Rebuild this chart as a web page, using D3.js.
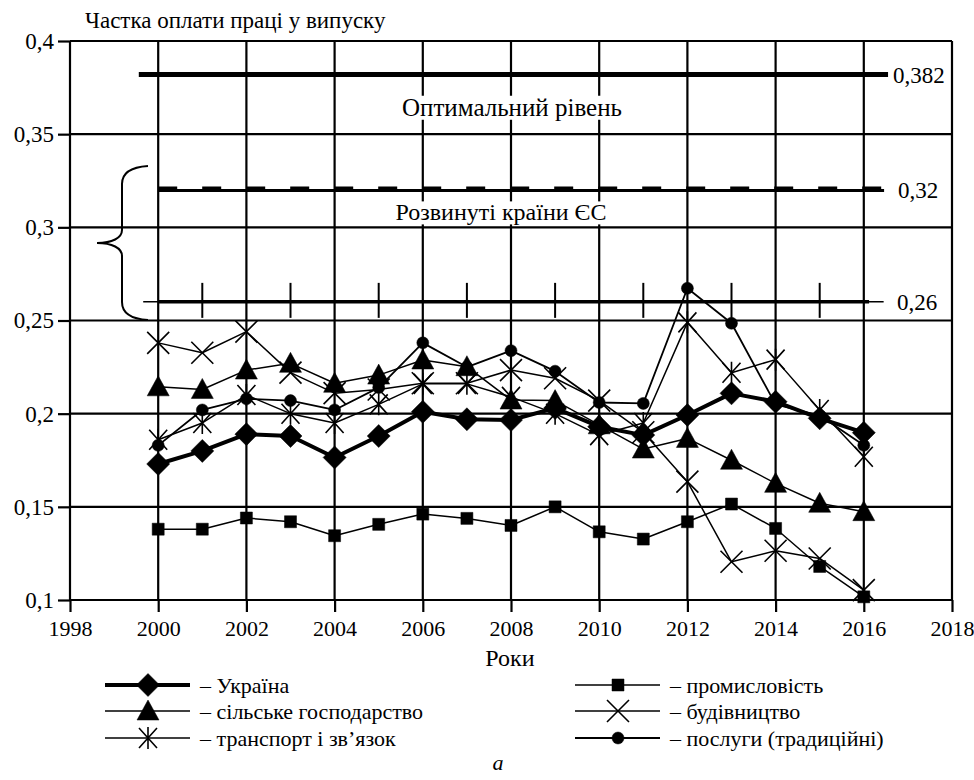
<!DOCTYPE html>
<html><head><meta charset="utf-8">
<script src="https://cdn.jsdelivr.net/npm/d3@7/dist/d3.min.js"></script>
<style>
body{margin:0;background:#fff}
svg text{font-family:"Liberation Serif","DejaVu Serif",serif !important;fill:#000}
</style>
</head><body>
<svg id="c" width="974" height="780"></svg>
<script>
const years = [2000,2001,2002,2003,2004,2005,2006,2007,2008,2009,2010,2011,2012,2013,2014,2015,2016];
const ukraine      = [0.173,0.180,0.189,0.188,0.1765,0.188,0.201,0.197,0.1966,0.203,0.193,0.1885,0.1993,0.2109,0.2064,0.1975,0.1898];
const agriculture  = [0.2144,0.213,0.2234,0.227,0.2163,0.2207,0.2288,0.2252,0.2073,0.207,0.194,0.181,0.1867,0.175,0.1626,0.1519,0.1474];
const transport    = [0.186,0.195,0.210,0.200,0.195,0.205,0.216,0.216,0.209,0.200,0.1885,0.195,0.249,0.222,0.229,0.202,0.1769];
const industry     = [0.138,0.138,0.144,0.142,0.1345,0.1406,0.1461,0.1438,0.140,0.150,0.1366,0.1327,0.142,0.1515,0.1384,0.118,0.1017];
const construction = [0.238,0.2327,0.244,0.222,0.211,0.213,0.2163,0.2163,0.2234,0.219,0.207,0.190,0.1635,0.1205,0.1264,0.1223,0.1053];
const services     = [0.183,0.202,0.208,0.207,0.202,0.214,0.238,0.225,0.2338,0.2228,0.206,0.2055,0.2673,0.2485,0.205,0.199,0.183];

const xTicks = [1998,2000,2002,2004,2006,2008,2010,2012,2014,2016,2018];
const yTicks = [0.1,0.15,0.2,0.25,0.3,0.35,0.4];
const yTickLabels = ["0,1","0,15","0,2","0,25","0,3","0,35","0,4"];
const refValues = [0.382,0.32,0.26];
const refLabels = ["0,382","0,32","0,26"];
const refTexts = ["Оптимальний рівень","Розвинуті країни ЄС"];
const refTickYears = [2001,2003,2005,2007,2009,2011,2013,2015];
const yTitle = "Частка оплати праці у випуску";
const xTitle = "Роки";
const caption = "a";

const seriesNames = ["Україна","сільське господарство","транспорт і зв’язок","промисловість","будівництво","послуги (традиційні)"];

const FONT = '"Liberation Serif","DejaVu Serif",serif';
const svg = d3.select("#c");
const x = d3.scaleLinear().domain([1998,2018]).range([70,952]);
const y = d3.scaleLinear().domain([0.1,0.4]).range([600,41]);

// gridlines
const grid = svg.append("g").attr("stroke","#000").attr("stroke-width",2.2);
grid.selectAll("line.v").data(xTicks).join("line")
  .attr("x1",d=>x(d)).attr("x2",d=>x(d)).attr("y1",y(0.4)).attr("y2",y(0.1));
grid.selectAll("line.h").data(yTicks).join("line")
  .attr("x1",x(1998)).attr("x2",x(2018)).attr("y1",d=>y(d)).attr("y2",d=>y(d));

// axes
const yAxis = d3.axisLeft(y).tickValues(yTicks).tickSize(12).tickSizeOuter(0).tickPadding(4)
  .tickFormat((d,i)=>yTickLabels[i]);
const gy = svg.append("g").attr("transform",`translate(${x(1998)},0)`).call(yAxis)
  .attr("font-family",FONT).attr("font-size",23);
gy.select(".domain").remove();
gy.selectAll("line").attr("stroke","#000").attr("stroke-width",2.2);
gy.selectAll("text").style("font-family",FONT).attr("font-size",23);

const xAxis = d3.axisBottom(x).tickValues(xTicks).tickSize(12).tickSizeOuter(0).tickPadding(8)
  .tickFormat(d3.format("d"));
const gx = svg.append("g").attr("transform",`translate(0,${y(0.1)})`).call(xAxis)
  .attr("font-family",FONT).attr("font-size",22);
gx.select(".domain").remove();
gx.selectAll("line").attr("stroke","#000").attr("stroke-width",2.2);
gx.selectAll("text").style("font-family",FONT).attr("font-size",22);

// reference lines
const r = svg.append("g");
r.append("line").attr("x1",x(1999.56)).attr("x2",x(2016.55))
  .attr("y1",y(refValues[0])).attr("y2",y(refValues[0]))
  .attr("stroke","#000").attr("stroke-width",5);
r.append("line").attr("x1",x(2000)).attr("x2",x(2016.46))
  .attr("y1",y(refValues[1])+0.5).attr("y2",y(refValues[1])+0.5)
  .attr("stroke","#000").attr("stroke-width",3);
r.append("line").attr("x1",x(2000)).attr("x2",x(2016.46))
  .attr("y1",y(refValues[1])-2).attr("y2",y(refValues[1])-2)
  .attr("stroke","#000").attr("stroke-width",3).attr("stroke-dasharray","19,25");
r.append("line").attr("x1",x(1999.66)).attr("x2",x(2016.45))
  .attr("y1",y(refValues[2])).attr("y2",y(refValues[2]))
  .attr("stroke","#000").attr("stroke-width",1.5);
r.append("line").attr("x1",x(2000)).attr("x2",x(2016.12))
  .attr("y1",y(refValues[2])).attr("y2",y(refValues[2]))
  .attr("stroke","#000").attr("stroke-width",3.5);
r.selectAll("line.tk").data(refTickYears).join("line")
  .attr("x1",d=>x(d)).attr("x2",d=>x(d))
  .attr("y1",y(refValues[2])-19).attr("y2",y(refValues[2])+16)
  .attr("stroke","#000").attr("stroke-width",2);
const refLabelX = [893,898,897];
r.selectAll("text.rl").data(refValues).join("text")
  .attr("x",(d,i)=>refLabelX[i]).attr("y",d=>y(d)).attr("dy","0.35em")
  .attr("font-size",23).text((d,i)=>refLabels[i]);
const refTextPos = [[512,107],[501,212]];
const refTextSize = [25,24];
refTexts.forEach((t,i)=>{
  const tx = r.append("text").attr("x",refTextPos[i][0]).attr("y",refTextPos[i][1])
    .attr("text-anchor","middle").attr("dy","0.35em").attr("font-size",refTextSize[i]).text(t);
  const bb = tx.node().getBBox();
  r.insert("rect",()=>tx.node()).attr("x",bb.x-3).attr("y",bb.y+2).attr("width",bb.width+6).attr("height",bb.height-3).attr("fill","#fff");
});
const brace = "M148,166 C132,167 122,172 122,184 L122,230 C122,238 112,243 97,243 C112,243 122,248 122,256 L122,302 C122,314 132,319 148,320";
svg.append("path").attr("d",brace).attr("fill","none").attr("stroke","#000").attr("stroke-width",2);

const markers = {
  diamond: s=>`M0,${-11.5*s}L${11.5*s},0L0,${11.5*s}L${-11.5*s},0Z`,
  triangle: s=>`M0,${-11*s}L${11*s},${9*s}L${-11*s},${9*s}Z`,
  square: s=>`M${-6*s},${-6*s}h${12*s}v${12*s}h${-12*s}Z`,
  circle: s=>`M${-6*s},0a${6*s},${6*s} 0 1,0 ${12*s},0a${6*s},${6*s} 0 1,0 ${-12*s},0Z`,
  cross: s=>`M${-11*s},${-11*s}L${11*s},${11*s}M${11*s},${-11*s}L${-11*s},${11*s}`,
  star: s=>`M0,${-11*s}L0,${11*s}M${-9*s},${-10*s}L${9*s},${10*s}M${9*s},${-10*s}L${-9*s},${10*s}`
};
const series = [
  {name:seriesNames[5], values:services, m:"circle", w:1.8, filled:true},
  {name:seriesNames[2], values:transport, m:"star", w:1.5, filled:false},
  {name:seriesNames[4], values:construction, m:"cross", w:1.5, filled:false},
  {name:seriesNames[3], values:industry, m:"square", w:1.5, filled:true},
  {name:seriesNames[1], values:agriculture, m:"triangle", w:1.5, filled:true},
  {name:seriesNames[0], values:ukraine, m:"diamond", w:4, filled:true}
];
const line = d3.line().x((d,i)=>x(years[i])).y(d=>y(d));
const gs = svg.append("g");
series.forEach(s=>{
  gs.append("path").datum(s.values).attr("d",line).attr("fill","none")
    .attr("stroke","#000").attr("stroke-width",s.w).attr("stroke-linejoin","round");
});
series.forEach(s=>{
  gs.append("g").selectAll("path").data(s.values).join("path")
    .attr("transform",(d,i)=>`translate(${x(years[i])},${y(d)})`)
    .attr("d",markers[s.m](1))
    .attr("fill",s.filled?"#000":"none").attr("stroke","#000").attr("stroke-width",s.filled?0.5:1.6);
});

svg.append("text").attr("x",85).attr("y",28).attr("font-size",23).text(yTitle);
svg.append("text").attr("x",510).attr("y",666).attr("text-anchor","middle").attr("font-size",24).text(xTitle);
svg.append("text").attr("x",498).attr("y",770).attr("text-anchor","middle").attr("font-size",22).attr("font-style","italic").text(caption);

const legendItems = [
  {name:seriesNames[0], m:"diamond", w:4, filled:true, col:0, row:0},
  {name:seriesNames[1], m:"triangle", w:1.5, filled:true, col:0, row:1},
  {name:seriesNames[2], m:"star", w:1.5, filled:false, col:0, row:2},
  {name:seriesNames[3], m:"square", w:1.5, filled:true, col:1, row:0},
  {name:seriesNames[4], m:"cross", w:1.5, filled:false, col:1, row:1},
  {name:seriesNames[5], m:"circle", w:2, filled:true, col:1, row:2}
];
const colX = [105,575], rowY = [685,711,738];
const lg = svg.append("g");
legendItems.forEach(it=>{
  const x0 = colX[it.col], yy = rowY[it.row];
  lg.append("line").attr("x1",x0).attr("x2",x0+85).attr("y1",yy).attr("y2",yy)
    .attr("stroke","#000").attr("stroke-width",it.w);
  lg.append("path").attr("transform",`translate(${x0+43},${yy})`).attr("d",markers[it.m](1))
    .attr("fill",it.filled?"#000":"none").attr("stroke","#000").attr("stroke-width",it.filled?0.5:1.6);
  lg.append("text").attr("x",x0+95).attr("y",yy).attr("dy","0.35em").attr("font-size",22).text("– "+it.name);
});
</script>
</body></html>
